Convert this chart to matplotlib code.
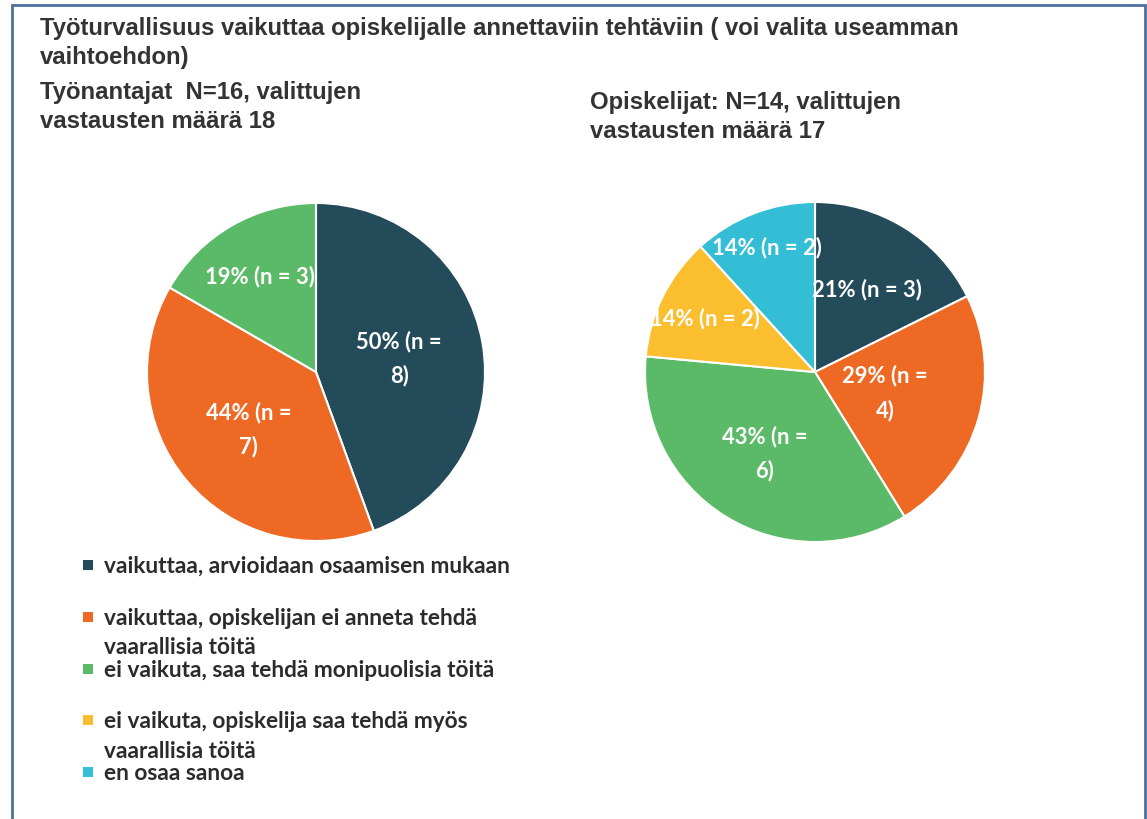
"""Two pie charts: how work safety affects the tasks given to students."""

import matplotlib

matplotlib.use("Agg", force=True)
import matplotlib.pyplot as plt
import numpy as np
from matplotlib.patches import Rectangle

# --- data -------------------------------------------------------------------
categories = [
    "vaikuttaa, arvioidaan osaamisen mukaan",
    "vaikuttaa, opiskelijan ei anneta tehdä\nvaarallisia töitä",
    "ei vaikuta, saa tehdä monipuolisia töitä",
    "ei vaikuta, opiskelija saa tehdä myös\nvaarallisia töitä",
    "en osaa sanoa",
]
colors = ["#234B5A", "#EE6A24", "#5BBA67", "#FBBE2E", "#33BED6"]

employer_counts = [8, 7, 3]
employer_labels = ["50% (n =\n8)", "44% (n =\n7)", "19% (n = 3)"]

student_counts = [3, 4, 6, 2, 2]
student_labels = ["21% (n = 3)", "29% (n =\n4)", "43% (n =\n6)", "14% (n = 2)", "14% (n = 2)"]

title = "Työturvallisuus vaikuttaa opiskelijalle annettaviin tehtäviin ( voi valita useamman\nvaihtoehdon)"
employer_title = "Työnantajat  N=16, valittujen\nvastausten määrä 18"
student_title = "Opiskelijat: N=14, valittujen\nvastausten määrä 17"

# --- figure -----------------------------------------------------------------
W, H = 1147, 820
fig = plt.figure(figsize=(W / 100, H / 100), dpi=100)


def fx(px):
    return px / W


def fy(py):
    return 1 - py / H


fig.patches.append(Rectangle((fx(12), fy(826)), fx(1133), 820 / H,
                             transform=fig.transFigure, fill=False,
                             edgecolor="#4F6F9C", linewidth=2))

head_font = ["Liberation Sans", "DejaVu Sans"]
body_font = ["Lato", "DejaVu Sans"]
head_kw = dict(ha="left", va="top", fontsize=17.2, fontweight="bold",
               family=head_font, color="#333333", linespacing=1.32)

fig.text(fx(40), fy(17), title, **head_kw)
fig.text(fx(40), fy(81), employer_title, **head_kw)
fig.text(fx(590), fy(91), student_title, **head_kw)


def draw_pie(cx, cy, r, counts, labels, dists):
    ax = fig.add_axes([fx(cx - r), fy(cy + r), 2 * r / W, 2 * r / H])
    wedges, _ = ax.pie(counts, colors=colors[:len(counts)], startangle=90,
                       counterclock=False, radius=1,
                       wedgeprops=dict(edgecolor="white", linewidth=1.5))
    for w, lab, d in zip(wedges, labels, dists):
        theta = np.deg2rad((w.theta1 + w.theta2) / 2)
        ax.text(d * np.cos(theta), d * np.sin(theta), lab, ha="center",
                va="center", color="white", fontsize=15.8, fontweight="bold",
                family=body_font, linespacing=1.7)
    ax.set_xlim(-1, 1)
    ax.set_ylim(-1, 1)
    ax.set_aspect("equal")
    ax.axis("off")


draw_pie(316, 373, 169, employer_counts, employer_labels, [0.5, 0.52, 0.66])
draw_pie(815, 373, 170, student_counts, student_labels,
         [0.58, 0.43, 0.56, 0.72, 0.79])

# legend drawn by hand to keep the fixed row step of the original
for i, (cat, col) in enumerate(zip(categories, colors)):
    y = 566 + i * 51.8
    fig.patches.append(Rectangle((fx(83), fy(y + 5)), fx(10), 10 / H,
                                 transform=fig.transFigure, facecolor=col,
                                 edgecolor="none"))
    fig.text(fx(104), fy(y - 10), cat, ha="left", va="top", fontsize=16.3,
             fontweight="bold", family=body_font, color="#2B2B2B",
             linespacing=1.5)

fig.savefig("out.png", dpi=100)
